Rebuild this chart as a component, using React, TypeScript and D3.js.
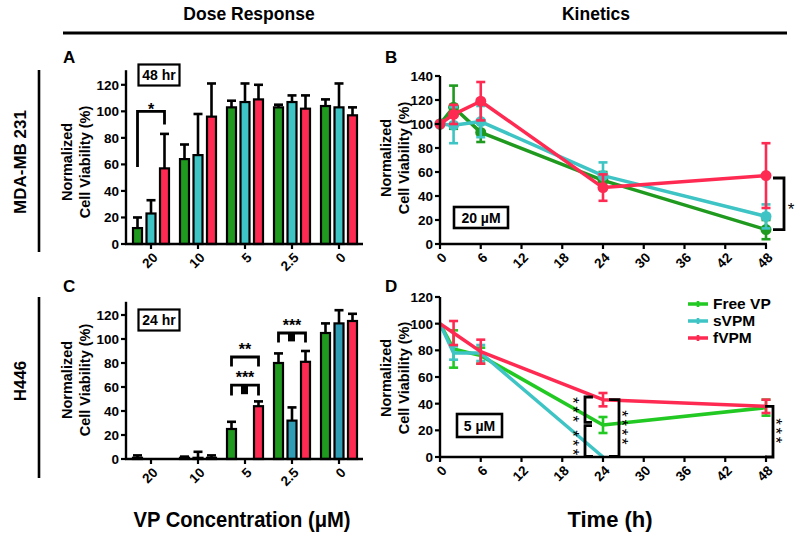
import React from 'react';
import * as d3 from 'd3';

// ---------- DATA ----------
const concLabels = ['20', '10', '5', '2.5', '0'];
const seriesNames = ['Free VP', 'sVPM', 'fVPM'];

// Panel A (MDA-MB 231, 48 hr) mean and upper error
const aFree = [12, 64, 103, 103, 104];
const aFreeErr = [8, 11, 5, 2, 5];
const aSvpm = [23, 67, 107, 107, 103];
const aSvpmErr = [10, 31, 14, 5, 18];
const aFvpm = [57, 96, 109, 102, 97];
const aFvpmErr = [26, 25, 11, 10, 6];

// Panel C (H446, 24 hr)
const cFree = [1, 1, 25, 80, 105];
const cFreeErr = [2, 1, 6, 8, 8];
const cSvpm = [0, 1, 0, 32, 113];
const cSvpmErr = [0, 5, 0, 11, 11];
const cFvpm = [0, 1, 44, 81, 115];
const cFvpmErr = [0, 2, 4, 9, 6];

// Panel B (MDA-MB 231, 20 uM)
const timesB = [0, 2, 6, 24, 48];
const bFree = [100, 114, 93, 53, 12];
const bFreeErr = [0, 18, 8, 7, 8];
const bSvpm = [100, 99, 102, 57, 23];
const bSvpmErr = [0, 15, 13, 11, 10];
const bFvpm = [100, 108, 119, 47, 57];
const bFvpmErr = [0, 8, 16, 11, 27];

// Panel D (H446, 5 uM)
const timesD = [0, 2, 6, 24, 48];
const timesDs = [0, 2, 6, 24];
const dFree = [100, 81, 76, 24, 37];
const dFreeErr = [0, 14, 6, 6, 6];
const dSvpm = [100, 78, 78, 0];
const dSvpmErr = [0, 5, 6, 0];
const dFvpm = [100, 93, 79, 43, 38];
const dFvpmErr = [0, 9, 9, 5, 5];

const timeTicks = [0, 6, 12, 18, 24, 30, 36, 42, 48];

// ---------- STYLE ----------
const FONT = "'Liberation Sans', Arial, Helvetica, sans-serif";
const GREEN_BAR = '#1f9a1f';
const CYAN_BAR = '#3ec4c4';
const CYAN_BAR_C = '#2e9db5';
const RED = '#ff2a52';
const GREEN_LINE_B = '#1f9a1f';
const GREEN_LINE_D = '#22c922';
const CYAN_LINE = '#3ec4c4';

type BarProps = {
  y0: number; y120: number; top: number;
  series: { v: number[]; e: number[]; color: string }[];
  boxLabel: string; boxY: number;
};

const xBand = d3.scaleBand<string>().domain(concLabels).range([127.5, 362.5]);
const barOffsets = [-13.5, 0, 13.5];
const barW = 9;

function BarPanel({ y0, y120, top, series, boxLabel, boxY }: BarProps) {
  const y = d3.scaleLinear().domain([0, 120]).range([y0, y120]);
  const ticks = d3.range(0, 121, 20);
  const axisX = 126;
  return (
    <g>
      {series.map((s, si) =>
        s.v.map((v, i) => {
          const cx = (xBand(concLabels[i]) as number) + xBand.bandwidth() / 2 + barOffsets[si];
          const yt = y(v);
          return (
            <g key={`${si}-${i}`}>
              {s.e[i] > 0 && (
                <g stroke="#000" strokeWidth={2.6}>
                  <line x1={cx} x2={cx} y1={yt} y2={y(v + s.e[i])} />
                  <line x1={cx - 4.5} x2={cx + 4.5} y1={y(v + s.e[i])} y2={y(v + s.e[i])} />
                </g>
              )}
              <rect x={cx - barW / 2} y={yt} width={barW} height={Math.max(0, y0 - yt)}
                fill={s.color} stroke="#000" strokeWidth={2.2} />
            </g>
          );
        })
      )}
      {/* axes */}
      <line x1={axisX} x2={axisX} y1={y0 + 1} y2={y(top)} stroke="#000" strokeWidth={2.4} />
      <line x1={axisX - 1} x2={363} y1={y0} y2={y0} stroke="#000" strokeWidth={2.4} />
      {ticks.map(t => (
        <g key={t}>
          <line x1={axisX - 5} x2={axisX} y1={y(t)} y2={y(t)} stroke="#000" strokeWidth={2.2} />
          <text x={axisX - 7} y={y(t)} dy="0.36em" textAnchor="end" fontSize={13.5} fontWeight="bold" fontFamily={FONT}>{t}</text>
        </g>
      ))}
      {concLabels.map(c => {
        const cx = (xBand(c) as number) + xBand.bandwidth() / 2;
        return (
          <g key={c}>
            <line x1={cx} x2={cx} y1={y0} y2={y0 + 5} stroke="#000" strokeWidth={2.2} />
            <text transform={`translate(${cx + 4},${y0 + 11}) rotate(-45)`} dy="0.36em" textAnchor="end"
              fontSize={13.5} fontWeight="bold" fontFamily={FONT}>{c}</text>
          </g>
        );
      })}
      <rect x={138.5} y={boxY} width={41} height={21} fill="#fff" stroke="#000" strokeWidth={2.2} />
      <text x={159} y={boxY + 15.5} textAnchor="middle" fontSize={14} fontWeight="bold" fontFamily={FONT}>{boxLabel}</text>
    </g>
  );
}

const xT = d3.scaleLinear().domain([0, 48]).range([440, 766]);

type LineProps = {
  y: d3.ScaleLinear<number, number>; top: number;
  series: { t: number[]; v: number[]; e: number[]; color: string }[];
  markers: boolean;
};

function LinePanel({ y, top, series, markers }: LineProps) {
  const ticks = d3.range(0, top + 1, 20);
  const line = d3.line<[number, number]>().x(d => xT(d[0])).y(d => y(d[1]));
  const y0 = y(0);
  return (
    <g>
      {series.map((s, si) => {
        const pts = s.t.map((t, i) => [t, s.v[i]] as [number, number]);
        return (
          <g key={si}>
            <path d={line(pts) as string} fill="none" stroke={s.color} strokeWidth={3.5} strokeLinejoin="round" />
            {pts.map((p, i) => s.e[i] > 0 && (
              <g key={i} stroke={s.color} strokeWidth={2.6}>
                <line x1={xT(p[0])} x2={xT(p[0])} y1={y(p[1] - s.e[i])} y2={y(p[1] + s.e[i])} />
                <line x1={xT(p[0]) - 4.5} x2={xT(p[0]) + 4.5} y1={y(p[1] + s.e[i])} y2={y(p[1] + s.e[i])} />
                <line x1={xT(p[0]) - 4.5} x2={xT(p[0]) + 4.5} y1={y(p[1] - s.e[i])} y2={y(p[1] - s.e[i])} />
              </g>
            ))}
            {markers && pts.map((p, i) => (
              <circle key={`m${i}`} cx={xT(p[0])} cy={y(p[1])} r={5.5} fill={s.color} />
            ))}
          </g>
        );
      })}
      <line x1={440} x2={440} y1={y0 + 1} y2={y(top)} stroke="#000" strokeWidth={2.4} />
      <line x1={439} x2={767} y1={y0} y2={y0} stroke="#000" strokeWidth={2.4} />
      {ticks.map(t => (
        <g key={t}>
          <line x1={435} x2={440} y1={y(t)} y2={y(t)} stroke="#000" strokeWidth={2.2} />
          <text x={433} y={y(t)} dy="0.36em" textAnchor="end" fontSize={13.5} fontWeight="bold" fontFamily={FONT}>{t}</text>
        </g>
      ))}
      {timeTicks.map(t => (
        <g key={t}>
          <line x1={xT(t)} x2={xT(t)} y1={y0} y2={y0 + 5} stroke="#000" strokeWidth={2.2} />
          <text transform={`translate(${xT(t) + 4},${y0 + 11}) rotate(-45)`} dy="0.36em" textAnchor="end"
            fontSize={13.5} fontWeight="bold" fontFamily={FONT}>{t}</text>
        </g>
      ))}
    </g>
  );
}

function YLabel({ x, y }: { x: number; y: number }) {
  return (
    <text transform={`translate(${x},${y}) rotate(-90)`} textAnchor="middle" fontSize={14.5} fontWeight="bold" fontFamily={FONT}>
      <tspan x={0} dy={0}>Normalized</tspan>
      <tspan x={0} dy={18}>Cell Viability (%)</tspan>
    </text>
  );
}

// vertically stacked asterisks, drawn as one rotated text
function Stars({ x, y, n }: { x: number; y: number; n: number }) {
  return (
    <text transform={`translate(${x},${y}) rotate(90)`} dy="0.58em" fontSize={17} letterSpacing={2.6}
      fontFamily={FONT}>{'*'.repeat(n)}</text>
  );
}

export default function App() {
  const yA = d3.scaleLinear().domain([0, 120]).range([244, 84.8]);
  const yC = d3.scaleLinear().domain([0, 120]).range([459, 315]);
  const yB = d3.scaleLinear().domain([0, 140]).range([244, 76]);
  const yD = d3.scaleLinear().domain([0, 120]).range([457, 297]);
  const gc = (i: number, k: number) => (xBand(concLabels[i]) as number) + xBand.bandwidth() / 2 + barOffsets[k];

  const legend = [
    { name: seriesNames[0], color: GREEN_LINE_D },
    { name: seriesNames[1], color: CYAN_LINE },
    { name: seriesNames[2], color: RED },
  ];

  return (
    <svg width={800} height={537} style={{ position: 'absolute', left: 0, top: 0, background: '#fff' }} fontFamily={FONT}>
      <rect x={0} y={0} width={800} height={537} fill="#fff" />
      {/* header */}
      <text x={249} y={20} textAnchor="middle" fontSize={17.5} fontWeight="bold">Dose Response</text>
      <text x={596} y={20} textAnchor="middle" fontSize={17.5} fontWeight="bold">Kinetics</text>
      <line x1={63} x2={787} y1={33} y2={33} stroke="#000" strokeWidth={3} />

      {/* row labels */}
      <line x1={39} x2={39} y1={70} y2={252} stroke="#000" strokeWidth={2.6} />
      <text transform="translate(26,162) rotate(-90)" textAnchor="middle" fontSize={17} fontWeight="bold">MDA-MB 231</text>
      <line x1={39} x2={39} y1={297} y2={478} stroke="#000" strokeWidth={2.6} />
      <text transform="translate(26,381) rotate(-90)" textAnchor="middle" fontSize={17} fontWeight="bold">H446</text>

      {/* panel letters */}
      <text x={63} y={63} fontSize={17} fontWeight="bold">A</text>
      <text x={385} y={63} fontSize={17} fontWeight="bold">B</text>
      <text x={63} y={292} fontSize={17} fontWeight="bold">C</text>
      <text x={385} y={292} fontSize={17} fontWeight="bold">D</text>

      {/* Panel A */}
      <YLabel x={72} y={162} />
      <BarPanel y0={244} y120={84.8} top={131} boxLabel="48 hr" boxY={64.5}
        series={[
          { v: aFree, e: aFreeErr, color: GREEN_BAR },
          { v: aSvpm, e: aSvpmErr, color: CYAN_BAR },
          { v: aFvpm, e: aFvpmErr, color: RED },
        ]} />
      <path d={`M${gc(0, 0)},${yA(58)} V${yA(100)} H${gc(0, 2)} V${yA(90)}`} fill="none" stroke="#000" strokeWidth={2.8} />
      <text x={(gc(0, 0) + gc(0, 2)) / 2} y={yA(100) + 4} textAnchor="middle" fontSize={16} fontWeight="bold">*</text>

      {/* Panel C */}
      <YLabel x={72} y={380} />
      <BarPanel y0={459} y120={315} top={131} boxLabel="24 hr" boxY={309.5}
        series={[
          { v: cFree, e: cFreeErr, color: GREEN_BAR },
          { v: cSvpm, e: cSvpmErr, color: CYAN_BAR_C },
          { v: cFvpm, e: cFvpmErr, color: RED },
        ]} />
      {/* brackets C */}
      <path d={`M${gc(2, 0)},${yC(77)} V${yC(85)} H${gc(2, 2)} V${yC(77)}`} fill="none" stroke="#000" strokeWidth={2.8} />
      <text x={gc(2, 1)} y={yC(85) - 2} textAnchor="middle" fontSize={16} fontWeight="bold">**</text>
      <path d={`M${gc(2, 0)},${yC(53)} V${yC(61.5)} H${gc(2, 2)} V${yC(53)}`} fill="none" stroke="#000" strokeWidth={2.8} />
      <rect x={gc(2, 1) - 4} y={yC(61.5)} width={7} height={yC(54) - yC(61.5)} fill="#000" />
      <text x={gc(2, 1)} y={yC(61.5) - 2} textAnchor="middle" fontSize={16} fontWeight="bold">***</text>
      <path d={`M${gc(3, 0)},${yC(97)} V${yC(105)} H${gc(3, 2)} V${yC(97)}`} fill="none" stroke="#000" strokeWidth={2.8} />
      <rect x={gc(3, 1) - 4} y={yC(105)} width={7} height={yC(98) - yC(105)} fill="#000" />
      <text x={gc(3, 1)} y={yC(105) - 2} textAnchor="middle" fontSize={16} fontWeight="bold">***</text>

      {/* Panel B */}
      <YLabel x={391} y={158} />
      <LinePanel y={yB} top={140} markers={true}
        series={[
          { t: timesB, v: bFree, e: bFreeErr, color: GREEN_LINE_B },
          { t: timesB, v: bSvpm, e: bSvpmErr, color: CYAN_LINE },
          { t: timesB, v: bFvpm, e: bFvpmErr, color: RED },
        ]} />
      <path d={`M773,${yB(55)} H784 V${yB(12)} H773`} fill="none" stroke="#000" strokeWidth={2.8} />
      <text x={791} y={yB(33) + 11} textAnchor="middle" fontSize={17}>*</text>
      <rect x={454} y={207} width={54} height={21} fill="#fff" stroke="#000" strokeWidth={2.6} />
      <text x={481} y={222.5} textAnchor="middle" fontSize={14} fontWeight="bold">20 µM</text>

      {/* Panel D */}
      <YLabel x={391} y={378} />
      <LinePanel y={yD} top={120} markers={false}
        series={[
          { t: timesD, v: dFree, e: dFreeErr, color: GREEN_LINE_D },
          { t: timesDs, v: dSvpm, e: dSvpmErr, color: CYAN_LINE },
          { t: timesD, v: dFvpm, e: dFvpmErr, color: RED },
        ]} />
      {/* brackets D */}
      <path d={`M593,${yD(45)} H585 V${yD(26)} H592`} fill="none" stroke="#000" strokeWidth={2.8} />
      <path d={`M592,${yD(23.5)} H585 V${yD(0.5)} H593`} fill="none" stroke="#000" strokeWidth={2.8} />
      <Stars x={577} y={yD(45)} n={3} />
      <Stars x={577} y={yD(20)} n={3} />
      <path d={`M609,${yD(43)} H619 V${yD(0.5)} H609`} fill="none" stroke="#000" strokeWidth={2.8} />
      <Stars x={626} y={yD(35)} n={4} />
      <path d={`M765,${yD(38)} H773 V${yD(0)} H765`} fill="none" stroke="#000" strokeWidth={2.8} />
      <Stars x={780} y={yD(29)} n={3} />
      <rect x={457} y={414} width={45} height={23} fill="#fff" stroke="#000" strokeWidth={2.6} />
      <text x={479.5} y={430.5} textAnchor="middle" fontSize={14} fontWeight="bold">5 µM</text>

      {/* legend D */}
      {legend.map((l, i) => {
        const ly = 309 + i * 17;
        return (
          <g key={l.name}>
            <line x1={688} x2={708} y1={ly - 5} y2={ly - 5} stroke={l.color} strokeWidth={3.5} />
            <line x1={698} x2={698} y1={ly - 8} y2={ly - 2} stroke={l.color} strokeWidth={2.6} />
            <text x={713} y={ly} fontSize={15.5} fontWeight="bold">{l.name}</text>
          </g>
        );
      })}

      {/* x-axis titles */}
      <text x={242} y={527} textAnchor="middle" fontSize={22} fontWeight="bold" textLength={217} lengthAdjust="spacingAndGlyphs">VP Concentration (μM)</text>
      <text x={610} y={527} textAnchor="middle" fontSize={22} fontWeight="bold">Time (h)</text>
    </svg>
  );
}
